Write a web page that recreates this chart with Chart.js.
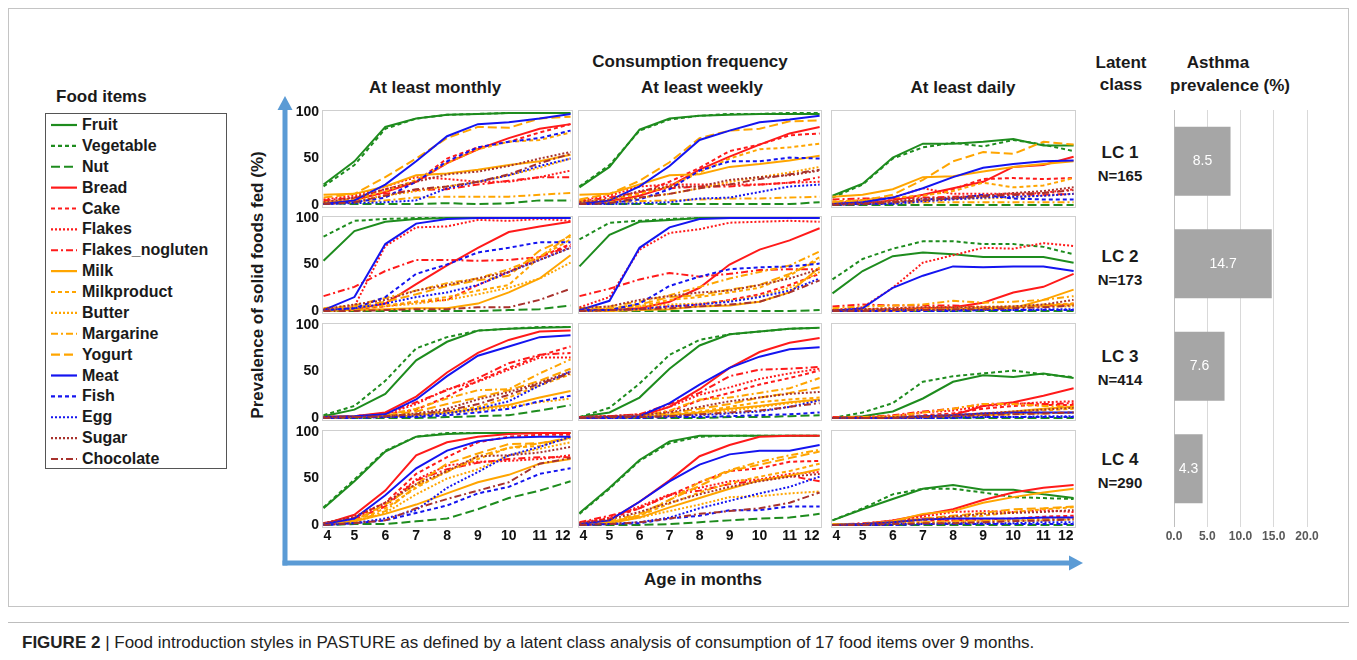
<!DOCTYPE html>
<html><head><meta charset="utf-8">
<script src="https://cdn.jsdelivr.net/npm/chart.js@4.4.0/dist/chart.umd.min.js"></script>
<style>
body{margin:0;background:#fff;width:1357px;height:660px;overflow:hidden;position:relative;font-family:"Liberation Sans",Arial,sans-serif;color:#1a1a1a;}
.t{position:absolute;font-weight:bold;white-space:nowrap;transform:translate(-50%,-50%);}
.l{position:absolute;font-weight:bold;white-space:nowrap;transform:translate(0,-50%);}
canvas{position:absolute;}
</style></head><body>
<script>
// ---------------- DATA ----------------
const ages = [4, 5, 6, 7, 8, 9, 10, 11, 12];
const foods = ["Fruit","Vegetable","Nut","Bread","Cake","Flakes","Flakes_nogluten","Milk","Milkproduct","Butter","Margarine","Yogurt","Meat","Fish","Egg","Sugar","Chocolate"];
const frequencies = ["At least monthly","At least weekly","At least daily"];
const classes = ["LC 1","LC 2","LC 3","LC 4"];
const classN = ["N=165","N=173","N=414","N=290"];
const asthma = [8.5, 14.7, 7.6, 4.3];
const asthmaTicks = [0, 5, 10, 15, 20];
const yTicks = [0, 50, 100];

// each panel: one row per food (order of `foods`), one value per age (%)
const lc1Monthly = [
 [22,47,84,93,97,98,99,99,99],[20,43,82,93,97,98,99,99,99],[2,1,1,1,2,1,2,5,5],
 [2,5,14,25,45,60,72,82,87],[3,7,17,25,50,62,68,78,87],[6,10,20,30,28,25,25,30,37],
 [5,8,12,16,17,22,26,30,30],[11,12,20,32,34,38,43,47,54],[3,6,15,27,45,60,68,70,78],
 [2,5,10,15,20,25,32,40,50],[2,3,5,8,9,9,9,11,13],[8,12,30,50,72,84,83,93,95],
 [1,5,22,47,74,87,89,93,98],[1,3,8,25,47,62,68,72,80],[1,2,3,5,18,25,32,42,50],
 [3,8,17,25,33,36,42,50,57],[1,3,10,17,20,25,33,45,55]];
const lc1Weekly = [
 [19,41,81,93,96,97,98,98,98],[20,43,80,92,96,98,98,99,99],[2,1,1,1,1,1,1,1,3],
 [2,4,10,20,38,52,65,77,84],[3,5,13,25,40,58,65,75,77],[5,10,20,22,22,22,22,24,25],
 [4,8,14,18,20,20,22,24,30],[11,12,22,32,33,41,44,48,53],[4,6,12,20,35,50,60,62,66],
 [1,3,8,12,18,25,30,35,41],[2,3,4,5,6,7,7,8,9],[6,12,26,46,72,80,82,90,91],
 [1,5,20,42,70,80,89,92,96],[1,2,6,17,37,47,47,51,50],[1,1,2,3,7,8,14,20,22],
 [3,6,15,20,20,27,30,32,37],[1,2,8,12,18,22,28,33,38]];
const lc1Daily = [
 [10,23,51,66,66,68,71,64,64],[8,22,50,62,67,63,70,65,58],[0,0,0,0,0,0,0,0,0],
 [1,2,5,11,18,25,41,43,52],[3,5,7,10,17,28,29,28,29],[2,5,8,18,12,12,12,13,17],
 [6,7,7,8,9,10,11,11,12],[9,11,17,30,31,36,41,44,47],[4,5,8,10,15,24,19,21,29],
 [1,2,4,5,7,7,8,10,12],[1,1,2,3,3,3,3,3,3],[3,5,11,27,47,57,55,68,65],
 [1,3,8,18,30,40,44,47,48],[1,1,2,6,7,11,7,6,6],[0,1,1,4,6,8,9,10,12],
 [1,2,4,7,8,10,13,15,19],[0,1,3,5,7,9,11,13,16]];
const lc2Monthly = [
 [54,86,96,99,100,100,100,100,100],[80,97,99,100,100,100,100,100,100],[0,0,0,0,0,0,1,2,6],
 [1,2,8,29,49,68,85,91,96],[1,2,5,10,12,28,42,58,72],[1,5,70,90,91,98,97,99,97],
 [16,26,43,55,55,54,55,58,70],[0,1,2,3,3,8,20,35,60],[2,3,6,10,15,22,28,58,77],
 [2,3,5,8,12,18,25,35,52],[3,6,14,22,30,35,45,58,82],[2,4,10,18,27,33,38,65,80],
 [1,15,72,94,99,100,100,100,100],[1,3,15,40,50,63,68,74,74],[1,3,8,15,20,28,42,55,68],
 [2,7,12,22,28,35,42,55,68],[0,0,1,2,2,4,4,12,24]];
const lc2Weekly = [
 [48,82,96,98,100,100,100,100,100],[77,95,97,99,100,100,100,100,100],[0,0,0,0,0,0,0,0,1],
 [1,1,3,10,25,50,66,76,89],[1,2,3,5,7,12,18,28,40],[4,15,66,84,88,95,96,97,96],
 [16,24,34,41,37,40,44,45,45],[0,0,1,2,5,6,10,20,47],[1,2,5,12,15,20,25,38,58],
 [2,3,5,7,8,11,16,25,42],[3,5,10,17,26,35,42,49,64],[1,3,7,15,17,23,28,40,55],
 [1,11,68,90,99,100,100,100,100],[1,1,8,27,37,45,47,48,51],[0,1,2,5,7,10,15,22,35],
 [3,5,12,16,20,22,28,35,45],[0,1,2,3,5,7,10,20,33]];
const lc2Daily = [
 [19,43,59,63,61,58,58,58,52],[34,56,67,75,75,72,72,69,61],[0,0,0,0,0,0,0,0,0],
 [1,1,2,3,4,9,20,26,40],[1,2,2,3,3,3,4,5,8],[1,4,25,52,60,68,67,73,70],
 [5,7,6,6,6,4,4,6,7],[0,0,0,1,1,2,3,12,23],[0,1,1,2,2,3,5,7,8],
 [1,2,3,4,4,5,5,5,5],[3,5,6,7,11,9,10,12,16],[0,0,1,1,2,3,4,6,7],
 [0,3,25,38,48,47,48,48,43],[0,0,0,0,0,1,1,1,1],[0,1,1,1,1,1,1,2,2],
 [1,2,3,4,4,4,5,7,12],[0,0,1,1,2,2,3,4,6]];
const lc3Monthly = [
 [2,9,26,62,82,94,96,97,98],[3,13,40,75,87,94,96,98,98],[0,0,0,0,1,2,3,8,14],
 [1,2,6,23,49,70,84,93,94],[1,2,4,9,23,40,54,67,77],[1,2,4,15,31,39,52,65,65],
 [1,2,5,17,30,43,59,68,70],[0,1,1,3,6,10,14,22,29],[0,1,2,4,7,12,22,35,47],
 [0,1,1,3,5,8,12,17,21],[1,2,3,10,21,30,31,48,63],[1,2,3,7,15,22,30,40,53],
 [1,2,4,20,45,67,77,87,89],[0,0,1,1,3,6,10,18,24],[0,1,1,2,5,10,18,35,50],
 [1,1,2,5,10,20,28,38,50],[0,1,2,4,8,15,25,37,48]];
const lc3Weekly = [
 [1,6,22,53,78,90,93,96,97],[1,11,37,68,84,90,93,96,97],[0,0,0,0,0,1,1,2,3],
 [0,1,2,12,31,54,71,81,86],[1,2,3,7,19,27,36,43,51],[1,2,4,12,25,33,42,48,53],
 [1,2,4,15,27,45,52,53,55],[0,0,1,3,6,10,13,17,20],[0,1,2,4,7,12,17,20,22],
 [0,1,1,3,5,8,12,16,19],[0,1,2,8,20,22,27,32,43],[0,1,2,5,10,15,22,27,33],
 [0,1,2,16,36,54,66,74,76],[0,0,0,1,1,2,3,4,6],[0,0,1,2,3,5,7,12,19],
 [1,2,3,6,12,18,22,26,28],[0,1,1,2,4,6,8,12,16]];
const lc3Daily = [
 [0,2,7,21,39,46,44,48,43],[0,6,16,39,45,48,51,47,44],[0,0,0,0,0,0,0,0,0],
 [0,0,0,1,3,13,17,24,32],[0,1,1,3,5,10,13,14,14],[0,1,2,6,8,13,15,17,18],
 [1,1,3,7,10,15,16,15,16],[0,0,0,1,2,4,7,10,12],[0,0,1,2,3,5,6,8,10],
 [0,0,1,2,3,4,5,5,6],[0,1,2,6,10,15,15,13,12],[0,0,0,1,2,3,4,5,6],
 [0,0,0,2,3,5,6,6,6],[0,0,0,0,0,1,1,1,1],[0,0,0,0,1,1,1,2,2],
 [0,0,1,2,3,5,7,9,11],[0,0,0,1,2,3,4,5,6]];
const lc4Monthly = [
 [18,47,79,95,98,99,99,99,99],[19,49,80,95,99,99,99,99,99],[0,1,1,4,7,17,29,37,47],
 [1,11,37,75,89,95,98,99,99],[2,8,24,55,73,89,95,97,97],[2,8,22,49,64,68,69,71,75],
 [2,6,20,48,60,67,71,73,73],[1,4,12,22,34,46,54,66,71],[1,4,18,40,58,71,83,85,94],
 [1,3,13,33,50,60,75,82,89],[1,4,15,42,57,74,83,88,93],[1,5,22,44,66,77,87,88,94],
 [1,7,32,61,80,90,94,95,95],[0,2,5,13,21,34,41,55,61],[0,2,7,16,40,57,75,84,95],
 [2,9,24,44,58,74,75,78,84],[0,2,5,18,28,37,46,66,72]];
const lc4Weekly = [
 [13,40,70,90,96,96,96,96,96],[12,39,69,88,95,96,96,96,96],[0,0,0,1,3,5,7,8,12],
 [1,5,25,48,74,86,95,96,96],[2,7,18,32,46,58,61,68,69],[2,8,20,33,40,47,49,55,57],
 [3,10,18,32,37,44,48,53,47],[0,2,8,19,29,39,48,53,60],[1,3,10,23,35,45,52,58,66],
 [1,3,8,15,22,30,31,34,36],[1,4,12,27,46,59,68,75,81],[1,3,10,27,42,58,65,72,79],
 [1,5,25,47,65,76,80,80,86],[0,1,2,7,10,16,16,20,20],[0,1,3,8,18,26,34,41,52],
 [2,6,14,24,33,41,47,52,55],[0,1,3,7,12,15,18,24,35]];
const lc4Daily = [
 [5,17,28,39,43,38,38,33,29],[5,18,33,39,39,35,30,29,28],[0,0,0,0,0,0,0,0,0],
 [0,1,5,11,17,27,35,40,43],[0,1,4,5,5,6,7,9,10],[0,1,5,9,14,15,14,16,14],
 [0,2,4,7,5,5,6,7,8],[1,1,4,12,15,24,30,35,39],[0,1,3,6,8,10,14,17,19],
 [0,1,2,3,3,4,5,5,6],[1,1,2,3,4,5,6,6,7],[0,1,3,7,10,13,17,18,20],
 [0,1,3,6,7,7,7,8,8],[0,0,0,1,1,1,1,1,1],[0,0,1,1,2,2,2,3,3],
 [0,1,3,6,9,12,13,14,16],[0,0,1,2,2,3,4,5,6]];

const panels = [
 [lc1Monthly, lc1Weekly, lc1Daily],
 [lc2Monthly, lc2Weekly, lc2Daily],
 [lc3Monthly, lc3Weekly, lc3Daily],
 [lc4Monthly, lc4Weekly, lc4Daily]];

// ---------------- STYLES ----------------
const GREEN = "#1e8c1e", RED = "#ff1a1a", ORANGE = "#ffa500", BLUE = "#1414f0", BROWN = "#a8322d";
const DASH = {solid: [], dash: [4, 3], long: [9, 4], dot: [2, 2], dashdot: [7, 3, 2, 3]};
const foodStyle = [
 [GREEN,"solid"],[GREEN,"dash"],[GREEN,"long"],
 [RED,"solid"],[RED,"dash"],[RED,"dot"],[RED,"dashdot"],
 [ORANGE,"solid"],[ORANGE,"dash"],[ORANGE,"dot"],[ORANGE,"dashdot"],[ORANGE,"long"],
 [BLUE,"solid"],[BLUE,"dash"],[BLUE,"dot"],
 [BROWN,"dot"],[BROWN,"dashdot"]];

const colBox = [{L:322, W:251}, {L:578, W:244}, {L:831, W:245}];
const rowBox = [{T:110, H:98}, {T:216, H:98}, {T:323, H:98}, {T:430, H:98}];
const PAD = 14;
const FONT = '"Liberation Sans", Arial, sans-serif';

function addText(txt, x, y, size, cls, extra) {
  const d = document.createElement('div');
  d.className = cls || 't';
  d.style.left = x + 'px'; d.style.top = y + 'px'; d.style.fontSize = size + 'px';
  if (extra) Object.assign(d.style, extra);
  d.textContent = txt;
  document.body.appendChild(d);
  return d;
}

// ---------------- DECORATION (frame, arrows, caption) ----------------
const svgNS = "http://www.w3.org/2000/svg";
const svg = document.createElementNS(svgNS, 'svg');
svg.setAttribute('width', 1357); svg.setAttribute('height', 660);
svg.style.position = 'absolute'; svg.style.left = '0'; svg.style.top = '0';
svg.innerHTML = `
 <rect x="8.5" y="8.5" width="1340" height="598" fill="none" stroke="#c4c4c4" stroke-width="1"/>
 <line x1="8" y1="622.5" x2="1349" y2="622.5" stroke="#bdbdbd" stroke-width="1"/>
 <line x1="285" y1="565.5" x2="285" y2="108" stroke="#5b9bd5" stroke-width="5"/>
 <polygon points="285,96 277.5,110 292.5,110" fill="#5b9bd5"/>
 <line x1="282.5" y1="563" x2="1071" y2="563" stroke="#5b9bd5" stroke-width="5"/>
 <polygon points="1083,563 1069,555.5 1069,570.5" fill="#5b9bd5"/>
 <rect x="45.5" y="113.5" width="181" height="355" fill="none" stroke="#555" stroke-width="1"/>
`;
document.body.appendChild(svg);

// legend
addText("Food items", 56, 97, 17, 'l');
foods.forEach((f, i) => {
  const y = 125 + i * 20.875;
  const [c, d] = foodStyle[i];
  const ln = document.createElementNS(svgNS, 'line');
  ln.setAttribute('x1', 51); ln.setAttribute('x2', 77);
  ln.setAttribute('y1', y); ln.setAttribute('y2', y);
  ln.setAttribute('stroke', c); ln.setAttribute('stroke-width', 2.2);
  if (DASH[d].length) ln.setAttribute('stroke-dasharray', DASH[d].join(' '));
  svg.appendChild(ln);
  addText(f, 82, y, 16, 'l');
});

// headers
addText("Consumption frequency", 690, 62, 17);
const headX = [435, 702, 963];
frequencies.forEach((f, i) => addText(f, headX[i], 88, 17));
addText("Latent", 1121, 63, 17); addText("class", 1121, 85, 17);
addText("Asthma", 1218, 63, 17); addText("prevalence (%)", 1230, 86, 17);
const lcY = [153, 257, 357, 460];
classes.forEach((c, i) => { addText(c, 1120, lcY[i], 17); addText(classN[i], 1120, lcY[i] + 22, 15); });
addText("Prevalence of solid foods fed (%)", 258, 285, 17, 't', {transform: 'translate(-50%,-50%) rotate(-90deg)'});
addText("Age in months", 703, 580, 17);
const cap = document.createElement('div');
cap.style.cssText = 'position:absolute;left:22px;top:643px;transform:translate(0,-50%);font-size:17px;white-space:nowrap;color:#222;';
cap.innerHTML = '<b>FIGURE 2</b> | Food introduction styles in PASTURE as defined by a latent class analysis of consumption of 17 food items over 9 months.';
document.body.appendChild(cap);

// ---------------- PANELS ----------------
const framePlugin = {
  id: 'frame',
  beforeDatasetsDraw(chart) {
    const a = chart.chartArea, c = chart.ctx;
    c.save(); c.strokeStyle = '#cfcfcf'; c.lineWidth = 1;
    c.strokeRect(Math.round(a.left) + 0.5, Math.round(a.top) + 0.5, Math.round(a.right - a.left) - 1, Math.round(a.bottom - a.top) - 1);
    c.restore();
  }
};

function makePanel(r, c) {
  const yw = c === 0 ? 40 : 0, xh = r === 3 ? 22 : 0;
  const box = {L: colBox[c].L, W: colBox[c].W, T: rowBox[r].T, H: rowBox[r].H};
  const cv = document.createElement('canvas');
  cv.width = box.W + yw + 2 * PAD; cv.height = box.H + xh + 2 * PAD;
  cv.style.left = (box.L - yw - PAD) + 'px'; cv.style.top = (box.T - PAD) + 'px';
  document.body.appendChild(cv);
  const rows = panels[r][c];
  const datasets = rows.map((vals, i) => ({
    label: foods[i],
    data: vals.map((v, j) => ({x: ages[j], y: v})),
    borderColor: foodStyle[i][0],
    borderDash: DASH[foodStyle[i][1]],
    borderWidth: 2,
    fill: false, pointRadius: 0, tension: 0,
    order: 17 - i
  }));
  new Chart(cv, {
    type: 'line',
    data: {datasets},
    options: {
      responsive: false, animation: false, devicePixelRatio: 1,
      layout: {padding: PAD},
      plugins: {legend: {display: false}, tooltip: {enabled: false}},
      scales: {
        x: {type: 'linear', min: 3.95, max: 12.08, display: r === 3,
            afterBuildTicks: s => { s.ticks = ages.map(v => ({value: v})); },
            afterFit: s => { s.height = xh; },
            grid: {display: false, drawTicks: false}, border: {display: false},
            ticks: {padding: 0, align: 'inner', autoSkip: false, maxRotation: 0, color: '#111', font: {family: FONT, size: 14, weight: 'bold'}}},
        y: {min: -3.2, max: 102.2, display: c === 0,
            afterBuildTicks: s => { s.ticks = yTicks.map(v => ({value: v})); },
            afterFit: s => { s.width = yw; },
            grid: {display: false, drawTicks: false}, border: {display: false},
            ticks: {padding: 3, color: '#111', font: {family: FONT, size: 14, weight: 'bold'}}}
      }
    },
    plugins: [framePlugin]
  });
}
for (let r = 0; r < 4; r++) for (let c = 0; c < 3; c++) makePanel(r, c);

// ---------------- ASTHMA BARS ----------------
const barLabelPlugin = {
  id: 'barLabels',
  afterDatasetsDraw(chart) {
    const c = chart.ctx, meta = chart.getDatasetMeta(0);
    c.save(); c.fillStyle = '#fff'; c.font = '14px ' + FONT; c.textAlign = 'center'; c.textBaseline = 'middle';
    meta.data.forEach((el, i) => c.fillText(asthma[i].toFixed(1), (el.x + el.base) / 2, el.y));
    c.restore();
  }
};
const bc = document.createElement('canvas');
bc.width = 180; bc.height = 445;
bc.style.left = '1150px'; bc.style.top = '105px';
document.body.appendChild(bc);
new Chart(bc, {
  type: 'bar',
  data: {labels: classes, datasets: [{data: asthma, backgroundColor: '#a6a6a6', barPercentage: 0.9, categoryPercentage: 0.748}]},
  options: {
    indexAxis: 'y', responsive: false, animation: false, devicePixelRatio: 1,
    layout: {padding: {left: 24, right: 23, top: 5, bottom: 0}},
    plugins: {legend: {display: false}, tooltip: {enabled: false}},
    scales: {
      x: {min: 0, max: 20,
          afterBuildTicks: s => { s.ticks = asthmaTicks.map(v => ({value: v})); },
          afterFit: s => { s.height = 30; },
          grid: {color: ctx => ctx.tick && ctx.tick.value === 0 ? '#bfbfbf' : '#d9d9d9', drawTicks: true, tickLength: 7},
          border: {display: false},
          ticks: {padding: 2, color: '#595959', font: {family: FONT, size: 12, weight: 'bold'}, callback: v => v.toFixed(1)}},
      y: {display: false}
    }
  },
  plugins: [barLabelPlugin]
});
</script>
</body></html>
